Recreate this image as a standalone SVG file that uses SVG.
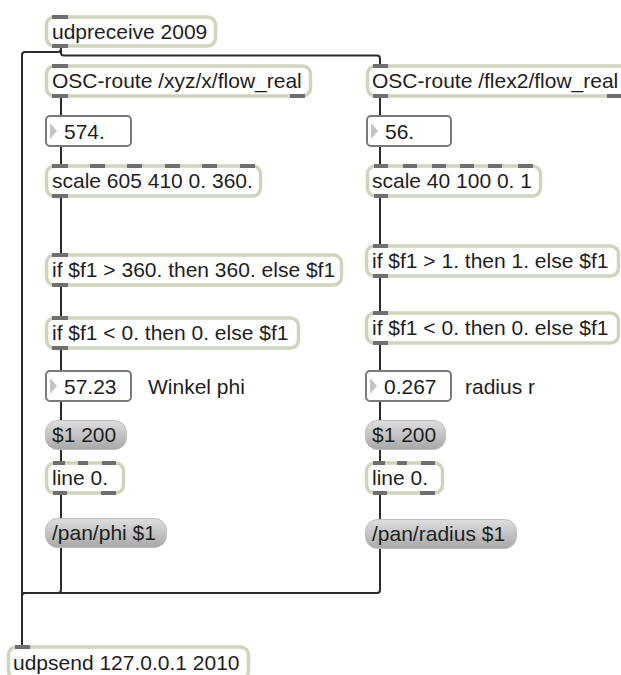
<svg xmlns="http://www.w3.org/2000/svg" width="621" height="675" viewBox="0 0 621 675">
  <defs>
    <linearGradient id="msgFill" x1="0" y1="0" x2="0" y2="1">
      <stop offset="0" stop-color="#dedede"/>
      <stop offset="1" stop-color="#a8a8a8"/>
    </linearGradient>
    <style>
      .obj rect.box { fill: #ffffff; stroke: #cdd5bd; stroke-width: 3.5; }
      .num rect.box { fill: #ffffff; stroke: #7a7a7a; stroke-width: 2; }
      .msg rect.box { fill: url(#msgFill); stroke: #bdbdbd; stroke-width: 1; }
      .tab { fill: #6f6f6f; }
      .tri { fill: #c4c4c4; }
      text { font-family: "Liberation Sans", Arial, sans-serif; font-size: 21px; fill: #1e1e1e; }
      .cord { fill: none; stroke: #2b2b2b; stroke-width: 2; }
    </style>
  </defs>
  <rect width="621" height="675" fill="#ffffff"/>

  <!-- patch cords -->
  <g id="connectors">
    <!-- udpreceive to udpsend (left rail) and to right OSC-route -->
    <path class="cord" d="M61,47 V49 Q61,52 58,52 H25 Q22,52 22,55 V646"/>
    <path class="cord" d="M61,47 V53 Q61,55.5 64,55.5 H377 Q380,55.5 380,58.5 V66"/>
    <!-- left chain -->
    <path class="cord" d="M61,96 V116"/>
    <path class="cord" d="M61,146 V166"/>
    <path class="cord" d="M61,196 V255"/>
    <path class="cord" d="M61,285 V318"/>
    <path class="cord" d="M61,348 V371"/>
    <path class="cord" d="M61,401 V421"/>
    <path class="cord" d="M61,449 V463"/>
    <path class="cord" d="M61,493 V519"/>
    <path class="cord" d="M61,547 V590 Q61,593 58,593 H25 Q22,593 22,596 V646"/>
    <!-- right chain -->
    <path class="cord" d="M380,96 V116"/>
    <path class="cord" d="M380,146 V166"/>
    <path class="cord" d="M380,196 V246"/>
    <path class="cord" d="M380,276 V313"/>
    <path class="cord" d="M380,343 V371"/>
    <path class="cord" d="M380,401 V421"/>
    <path class="cord" d="M380,449 V463"/>
    <path class="cord" d="M380,493 V520"/>
    <path class="cord" d="M380,548 V590 Q380,593 377,593 H22"/>
  </g>

  <!-- top input -->
  <g id="udpreceive" class="obj">
    <rect class="box" x="46.5" y="17" width="169" height="29" rx="8"/>
    <rect class="tab" x="52" y="15" width="16" height="4"/>
    <rect class="tab" x="52" y="44" width="16" height="4"/>
    <text x="52" y="39">udpreceive 2009</text>
  </g>

  <!-- left column: angle phi -->
  <g id="osc-route-left" class="obj">
    <rect class="box" x="46.5" y="66" width="264" height="30" rx="8"/>
    <rect class="tab" x="52" y="64" width="16" height="4"/>
    <rect class="tab" x="52" y="94" width="16" height="4"/>
    <rect class="tab" x="290" y="94" width="15" height="4"/>
    <text x="52" y="88">OSC-route /xyz/x/flow_real</text>
  </g>
  <g id="num-574" class="num">
    <rect class="box" x="46" y="116" width="85" height="30" rx="4"/>
    <polygon class="tri" points="50,123 57,131 50,139"/>
    <text x="64" y="139">574.</text>
  </g>
  <g id="scale-left" class="obj">
    <rect class="box" x="46.5" y="166" width="214" height="30" rx="8"/>
    <rect class="tab" x="52" y="164" width="16" height="4"/>
    <rect class="tab" x="90" y="164" width="15" height="4"/>
    <rect class="tab" x="127" y="164" width="15" height="4"/>
    <rect class="tab" x="165" y="164" width="15" height="4"/>
    <rect class="tab" x="202" y="164" width="15" height="4"/>
    <rect class="tab" x="240" y="164" width="15" height="4"/>
    <rect class="tab" x="52" y="194" width="16" height="4"/>
    <text x="52" y="188">scale 605 410 0. 360.</text>
  </g>
  <g id="if-max-left" class="obj">
    <rect class="box" x="46.5" y="255" width="295" height="30" rx="8"/>
    <rect class="tab" x="52" y="253" width="16" height="4"/>
    <rect class="tab" x="52" y="283" width="16" height="4"/>
    <text x="52" y="277">if $f1 &gt; 360. then 360. else $f1</text>
  </g>
  <g id="if-min-left" class="obj">
    <rect class="box" x="46.5" y="318" width="252" height="30" rx="8"/>
    <rect class="tab" x="52" y="316" width="16" height="4"/>
    <rect class="tab" x="52" y="346" width="16" height="4"/>
    <text x="52" y="340">if $f1 &lt; 0. then 0. else $f1</text>
  </g>
  <g id="num-phi" class="num">
    <rect class="box" x="46" y="371" width="85" height="30" rx="4"/>
    <polygon class="tri" points="50,378 57,386 50,394"/>
    <text x="64" y="394">57.23</text>
  </g>
  <text id="label-phi" x="148" y="394">Winkel phi</text>
  <g id="msg-ramp-left" class="msg">
    <rect class="box" x="45.5" y="420.5" width="81" height="29" rx="12"/>
    <text x="52" y="442">$1 200</text>
  </g>
  <g id="line-left" class="obj">
    <rect class="box" x="46.5" y="463" width="77" height="30" rx="8"/>
    <rect class="tab" x="53" y="461" width="12" height="4"/>
    <rect class="tab" x="78" y="461" width="10" height="4"/>
    <rect class="tab" x="102" y="461" width="14" height="4"/>
    <rect class="tab" x="53" y="491" width="14" height="4"/>
    <rect class="tab" x="101" y="491" width="15" height="4"/>
    <text x="52" y="485">line 0.</text>
  </g>
  <g id="msg-phi" class="msg">
    <rect class="box" x="45.5" y="518.5" width="121" height="29" rx="12"/>
    <text x="52" y="540">/pan/phi $1</text>
  </g>

  <!-- right column: radius r -->
  <g id="osc-route-right" class="obj">
    <rect class="box" x="367.5" y="66" width="262" height="30" rx="8"/>
    <rect class="tab" x="373" y="64" width="15" height="4"/>
    <rect class="tab" x="373" y="94" width="15" height="4"/>
    <rect class="tab" x="607" y="94" width="15" height="4"/>
    <text x="372" y="88">OSC-route /flex2/flow_real</text>
  </g>
  <g id="num-56" class="num">
    <rect class="box" x="367" y="116" width="84" height="30" rx="4"/>
    <polygon class="tri" points="371,123 378,131 371,139"/>
    <text x="385" y="139">56.</text>
  </g>
  <g id="scale-right" class="obj">
    <rect class="box" x="367.5" y="166" width="173" height="30" rx="8"/>
    <rect class="tab" x="374" y="164" width="14" height="4"/>
    <rect class="tab" x="403" y="164" width="14" height="4"/>
    <rect class="tab" x="432" y="164" width="14" height="4"/>
    <rect class="tab" x="460" y="164" width="14" height="4"/>
    <rect class="tab" x="488" y="164" width="14" height="4"/>
    <rect class="tab" x="518" y="164" width="15" height="4"/>
    <rect class="tab" x="374" y="194" width="14" height="4"/>
    <text x="372" y="188">scale 40 100 0. 1</text>
  </g>
  <g id="if-max-right" class="obj">
    <rect class="box" x="366.5" y="246" width="252" height="30" rx="8"/>
    <rect class="tab" x="373" y="244" width="15" height="4"/>
    <rect class="tab" x="373" y="274" width="15" height="4"/>
    <text x="372" y="268">if $f1 &gt; 1. then 1. else $f1</text>
  </g>
  <g id="if-min-right" class="obj">
    <rect class="box" x="366.5" y="313" width="252" height="30" rx="8"/>
    <rect class="tab" x="373" y="311" width="15" height="4"/>
    <rect class="tab" x="373" y="341" width="15" height="4"/>
    <text x="372" y="335">if $f1 &lt; 0. then 0. else $f1</text>
  </g>
  <g id="num-radius" class="num">
    <rect class="box" x="366" y="371" width="85" height="30" rx="4"/>
    <polygon class="tri" points="370,378 377,386 370,394"/>
    <text x="384" y="394">0.267</text>
  </g>
  <text id="label-radius" x="465" y="394">radius r</text>
  <g id="msg-ramp-right" class="msg">
    <rect class="box" x="365.5" y="420.5" width="80" height="29" rx="12"/>
    <text x="372" y="442">$1 200</text>
  </g>
  <g id="line-right" class="obj">
    <rect class="box" x="366.5" y="463" width="76" height="30" rx="8"/>
    <rect class="tab" x="373" y="461" width="12" height="4"/>
    <rect class="tab" x="397" y="461" width="10" height="4"/>
    <rect class="tab" x="421" y="461" width="14" height="4"/>
    <rect class="tab" x="373" y="491" width="14" height="4"/>
    <rect class="tab" x="420" y="491" width="15" height="4"/>
    <text x="372" y="485">line 0.</text>
  </g>
  <g id="msg-radius" class="msg">
    <rect class="box" x="365.5" y="519.5" width="151" height="29" rx="12"/>
    <text x="372" y="541">/pan/radius $1</text>
  </g>

  <!-- output -->
  <g id="udpsend" class="obj">
    <rect class="box" x="8.5" y="647" width="240" height="32" rx="8"/>
    <rect class="tab" x="15" y="645" width="15" height="4"/>
    <text x="13" y="670">udpsend 127.0.0.1 2010</text>
  </g>
</svg>
